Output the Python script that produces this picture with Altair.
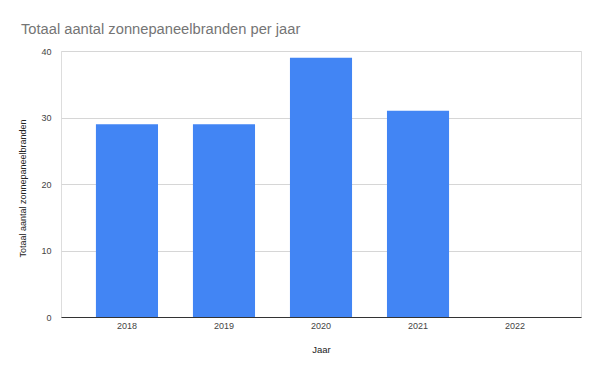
import altair as alt
import pandas as pd

# Data
jaren = ["2018", "2019", "2020", "2021", "2022"]
branden = [29, 29, 39, 31, 0]
y_ticks = [0, 10, 20, 30, 40]

df = pd.DataFrame({"Jaar": jaren, "Branden": branden})

FONT = "Arial"

chart = (
    alt.Chart(df)
    .mark_bar(color="#4285F4")
    .encode(
        x=alt.X(
            "Jaar:N",
            sort=jaren,
            title="Jaar",
            scale=alt.Scale(paddingInner=0.36, paddingOuter=0.36),
            axis=alt.Axis(
                labelAngle=0,
                labelFont=FONT,
                labelFontSize=9,
                labelColor="#444444",
                labelPadding=4,
                ticks=False,
                domainColor="#333333",
                domainWidth=1,
                titleFont=FONT,
                titleFontSize=9.5,
                titleFontWeight="normal",
                titleColor="#222222",
                titlePadding=14,
                zindex=1,
            ),
        ),
        y=alt.Y(
            "Branden:Q",
            title="Totaal aantal zonnepaneelbranden",
            scale=alt.Scale(domain=[0, 40], nice=False),
            axis=alt.Axis(
                values=y_ticks,
                domain=False,
                ticks=False,
                labelFont=FONT,
                labelFontSize=9,
                labelColor="#444444",
                labelPadding=10,
                gridColor="#d6d6d6",
                gridWidth=1,
                titleFont=FONT,
                titleFontSize=9,
                titleFontWeight="normal",
                titleColor="#222222",
                titleAngle=270,
                titleX=-39,
                titleY=137,
                titleBaseline="middle",
                titleAlign="center",
            ),
        ),
    )
    .properties(
        width=520,
        height=266,
        autosize="none",
        padding={"left": 53, "top": 43, "right": 11, "bottom": 47},
        title=alt.Title(
            "Totaal aantal zonnepaneelbranden per jaar",
            anchor="start",
            frame="group",
            font=FONT,
            fontSize=14.7,
            fontWeight="normal",
            color="#757575",
            baseline="alphabetic",
            dx=-40,
            dy=6,
        ),
    )
    .configure_view(stroke=None)
    .configure(background="white")
)

chart.save("out.html", embed_options={"renderer": "svg", "actions": False})
